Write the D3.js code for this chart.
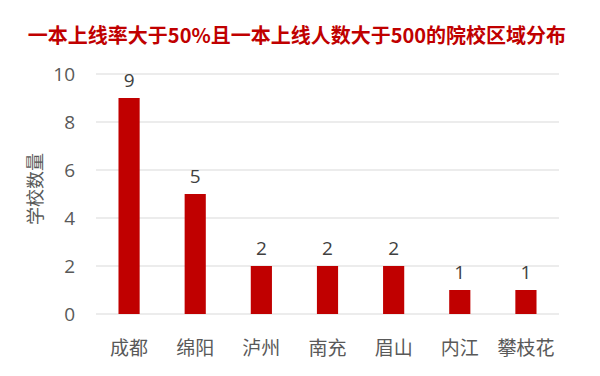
<!DOCTYPE html>
<html>
<head>
<meta charset="utf-8">
<script src="https://cdn.jsdelivr.net/npm/d3@7"></script>
<style>
  body { margin: 0; background: #fff; }
  text { font-family: "Noto Sans CJK SC", "Noto Sans", sans-serif; }
</style>
</head>
<body>
<div id="chart"></div>
<script>
const categories = ["成都", "绵阳", "泸州", "南充", "眉山", "内江", "攀枝花"];
const counts = [9, 5, 2, 2, 2, 1, 1];
const yTicks = [0, 2, 4, 6, 8, 10];

const width = 600, height = 376;
const margin = {top: 74, right: 41, bottom: 62, left: 96};
const visWidth = width - margin.left - margin.right;
const visHeight = height - margin.top - margin.bottom;

const svg = d3.select("#chart").append("svg")
    .attr("width", width)
    .attr("height", height);

svg.append("text")
    .attr("x", 297)
    .attr("y", 43)
    .attr("text-anchor", "middle")
    .attr("font-size", "20px")
    .attr("font-weight", "bold")
    .attr("fill", "#c00000")
    .text("一本上线率大于50%且一本上线人数大于500的院校区域分布");

const g = svg.append("g")
    .attr("transform", `translate(${margin.left}, ${margin.top})`);

const x = d3.scaleBand()
    .domain(categories)
    .range([0, visWidth])
    .paddingInner(0.68)
    .paddingOuter(0.34);

const y = d3.scaleLinear()
    .domain([0, 10])
    .range([visHeight, 0]);

// gridlines
g.append("g")
  .selectAll("line")
  .data(yTicks)
  .join("line")
    .attr("x1", 0)
    .attr("x2", visWidth)
    .attr("y1", d => y(d))
    .attr("y2", d => y(d))
    .attr("stroke", "#d9d9d9")
    .attr("stroke-width", 1);

const yAxis = d3.axisLeft(y).tickValues(yTicks).tickSize(0).tickPadding(21);
g.append("g")
    .call(yAxis)
    .call(g => g.select(".domain").remove())
    .call(g => g.selectAll("text")
        .attr("font-size", "19px")
        .attr("fill", "#595959")
        .style("font-family", "'Open Sans', 'Noto Sans', sans-serif"));

const xAxis = d3.axisBottom(x).tickSize(0).tickPadding(28);
g.append("g")
    .attr("transform", `translate(0, ${visHeight})`)
    .call(xAxis)
    .call(g => g.select(".domain").remove())
    .call(g => g.selectAll("text")
        .attr("font-size", "19px")
        .attr("fill", "#595959"));

// y label
svg.append("text")
    .attr("transform", `translate(42, 189) rotate(-90)`)
    .attr("text-anchor", "middle")
    .attr("font-size", "18px")
    .attr("fill", "#595959")
    .text("学校数量");

// bars
g.selectAll("rect.bar")
  .data(counts)
  .join("rect")
    .attr("class", "bar")
    .attr("x", (d, i) => x(categories[i]))
    .attr("y", d => y(d))
    .attr("width", x.bandwidth())
    .attr("height", d => y(0) - y(d))
    .attr("fill", "#c00000");

g.selectAll("text.val")
  .data(counts)
  .join("text")
    .attr("class", "val")
    .attr("x", (d, i) => x(categories[i]) + x.bandwidth() / 2)
    .attr("y", d => y(d) - 11)
    .attr("text-anchor", "middle")
    .attr("font-size", "19px")
    .attr("fill", "#404040")
    .style("font-family", "'Open Sans', 'Noto Sans', sans-serif")
    .text(d => d);
</script>
</body>
</html>
